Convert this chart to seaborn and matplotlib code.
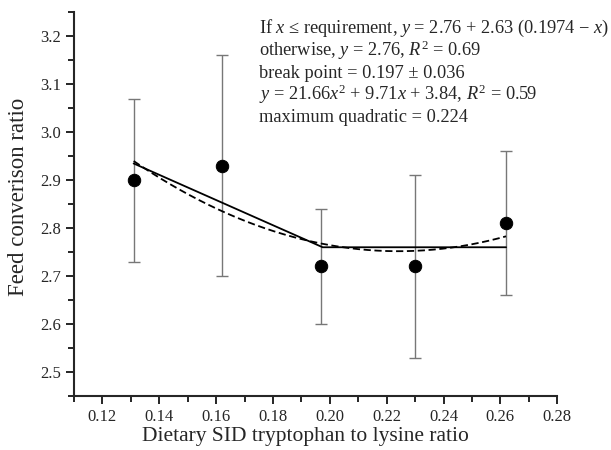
import numpy as np
import pandas as pd
import seaborn as sns
import matplotlib.pyplot as plt
from matplotlib.ticker import MultipleLocator

# ------------ data ----------------
ratio = [0.131, 0.162, 0.197, 0.230, 0.262]
fcr = [2.90, 2.93, 2.72, 2.72, 2.81]
fcr_low = [2.73, 2.70, 2.60, 2.53, 2.66]
fcr_high = [3.07, 3.16, 2.84, 2.91, 2.96]

# broken-line and quadratic fits (coefficients from the chart)
bl_plateau, bl_slope, bl_break = 2.76, 2.63, 0.1974
quad_a, quad_b, quad_c = 21.66, -9.71, 3.84

eq_lines = [
    r"If $x$ ≤ requirement, $y$ = 2.76 + 2.63 (0.1974 − $x$)",
    r"otherwise, $y$ = 2.76, $R^2$ = 0.69",
    r"break point = 0.197 ± 0.036",
    r"$y$ = 21.66$x^2$ + 9.71$x$ + 3.84, $R^2$ = 0.59",
    r"maximum quadratic = 0.224",
]

df = pd.DataFrame({"ratio": ratio, "fcr": fcr})
xs = np.linspace(min(ratio), max(ratio), 200)
fits = pd.DataFrame({
    "x": xs,
    "broken": bl_plateau + bl_slope * np.clip(bl_break - xs, 0, None),
    "quad": quad_a * xs ** 2 + quad_b * xs + quad_c,
})

# ------------ style ----------------
sns.set_style("ticks")
plt.rcParams["font.family"] = ["Liberation Serif", "DejaVu Serif"]
plt.rcParams["mathtext.fontset"] = "custom"
plt.rcParams["mathtext.rm"] = "Liberation Serif"
plt.rcParams["mathtext.it"] = "Liberation Serif:italic"

fig = plt.figure(figsize=(6.11, 4.5), dpi=100)
ax = fig.add_axes([0.121, 0.12, 0.791, 0.853])

err = [np.array(fcr) - np.array(fcr_low), np.array(fcr_high) - np.array(fcr)]
ax.errorbar(ratio, fcr, yerr=err, fmt="none", ecolor="#777777",
            elinewidth=1.0, capsize=4, capthick=1.0, zorder=1)

sns.lineplot(data=fits, x="x", y="broken", color="black", lw=1.3, ax=ax, zorder=2)
sns.lineplot(data=fits, x="x", y="quad", color="black", lw=1.3,
             linestyle=(0, (4, 2)), ax=ax, zorder=2)
sns.scatterplot(data=df, x="ratio", y="fcr", color="black", s=80,
                edgecolor="black", ax=ax, zorder=3)

ax.set_xlim(0.11, 0.28)
ax.set_ylim(2.45, 3.25)
ax.xaxis.set_minor_locator(MultipleLocator(0.01))
ax.yaxis.set_minor_locator(MultipleLocator(0.05))
ax.set_xticks(np.arange(0.12, 0.281, 0.02))
ax.set_xticklabels([f"{v:.2f}" for v in np.arange(0.12, 0.281, 0.02)])
ax.set_yticks(np.arange(2.5, 3.21, 0.1))
ax.set_yticklabels([f"{v:.1f}" for v in np.arange(2.5, 3.21, 0.1)])

ax.tick_params(which="major", length=6, width=1.2, labelsize=12, color="black")
ax.tick_params(which="minor", length=4, width=1.2, color="black")
for s in ["left", "bottom"]:
    ax.spines[s].set_linewidth(1.5)
sns.despine(ax=ax)

ax.set_xlabel("Dietary SID tryptophan to lysine ratio", fontsize=15.5)
ax.set_ylabel("Feed converison ratio", fontsize=16.5)
ax.xaxis.set_label_coords(0.479, -0.082)
ax.yaxis.set_label_coords(-0.092, 0.52)

for i, line in enumerate(eq_lines):
    ax.text(0.383, 0.945 - i * 0.0580, line, transform=ax.transAxes,
            fontsize=13.2, va="baseline", ha="left")

fig.savefig("out.png", dpi=100)
